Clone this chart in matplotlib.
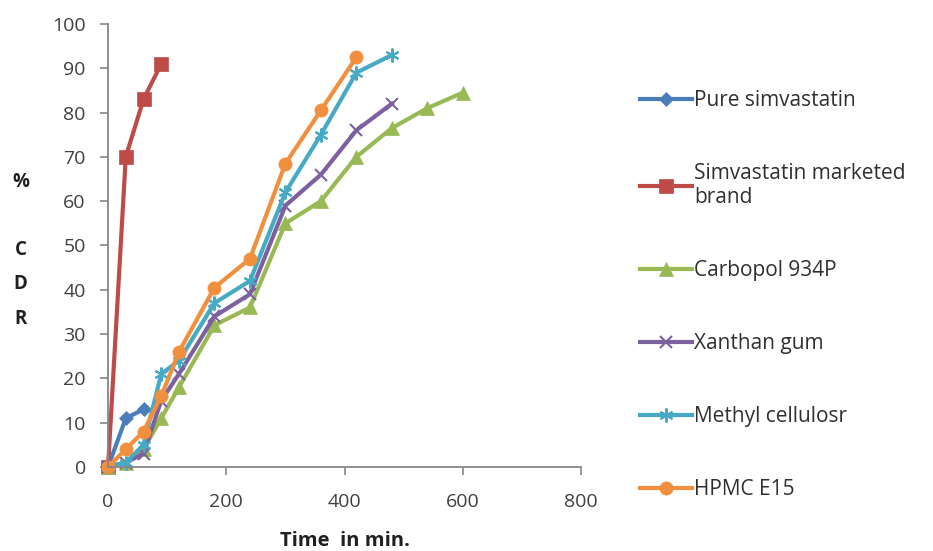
import matplotlib
matplotlib.use("Agg")
import matplotlib.pyplot as plt

plt.rcParams["font.family"] = ["Open Sans", "DejaVu Sans"]

# dissolution data (% CDR vs time in min)
time = [0, 30, 60, 90, 120, 180, 240, 300, 360, 420, 480, 540, 600]

pure_simvastatin = [0, 11, 13]
marketed_brand = [0, 70, 83, 91]
carbopol_934p = [0, 1, 4, 11, 18, 32, 36, 55, 60, 70, 76.5, 81, 84.5]
xanthan_gum = [0, 1, 3, 15, 21, 34, 39, 59, 66, 76, 82]
methyl_cellulose = [0, 1, 5, 21, 24, 37, 42, 62, 75, 89, 93]
hpmc_e15 = [0, 4, 8, 16, 26, 40.5, 47, 68.5, 80.5, 92.5]

labels = ["Pure simvastatin", "Simvastatin marketed\nbrand", "Carbopol 934P",
          "Xanthan gum", "Methyl cellulosr", "HPMC E15"]

series = [pure_simvastatin, marketed_brand, carbopol_934p,
          xanthan_gum, methyl_cellulose, hpmc_e15]
colors = ["#4A7EBB", "#BE4B48", "#98B954", "#7D60A0", "#46AAC5", "#F0903F"]
markers = ["D", "s", "^", "x", (6, 2, 0), "o"]
msizes = [7, 9.5, 10, 9, 10, 9.5]

fig = plt.figure(figsize=(9.33, 5.51), dpi=100)
ax = fig.add_axes([0.1158, 0.1525, 0.507, 0.804])

for vals, lab, c, m, ms in zip(series, labels, colors, markers, msizes):
    ax.plot(time[:len(vals)], vals, color=c, lw=3, marker=m, markersize=ms,
            markeredgewidth=1.5 if m in ("x", (6, 2, 0)) else 0.5,
            markeredgecolor=c, label=lab, clip_on=False)

ax.set_xlim(0, 800)
ax.set_ylim(0, 100)
ax.set_xticks(range(0, 801, 200))
ax.set_yticks(range(0, 101, 10))
ax.tick_params(axis="both", direction="out", length=6, width=1.2,
               color="#868686", labelsize=14, labelcolor="#404040")
ax.tick_params(axis="x", pad=13)
ax.tick_params(axis="y", pad=10)
for side in ("top", "right"):
    ax.spines[side].set_visible(False)
for side in ("left", "bottom"):
    ax.spines[side].set_color("#868686")
    ax.spines[side].set_linewidth(1.3)

ax.set_xlabel("Time  in min.", fontsize=14.5, fontweight="bold", labelpad=14,
              color="#202020")
fig.text(0.022, 0.546, "%\n\nC\nD\nR", fontsize=13.5, fontweight="bold",
         ha="center", va="center", linespacing=1.95, color="#202020")

fig.legend(loc="upper left", bbox_to_anchor=(0.686, 0.837), frameon=False,
           fontsize=15, handlelength=2.5, handletextpad=0.1,
           labelspacing=2.5, labelcolor="#303030", borderaxespad=0,
           borderpad=0)

fig.savefig("out.png", dpi=100)
